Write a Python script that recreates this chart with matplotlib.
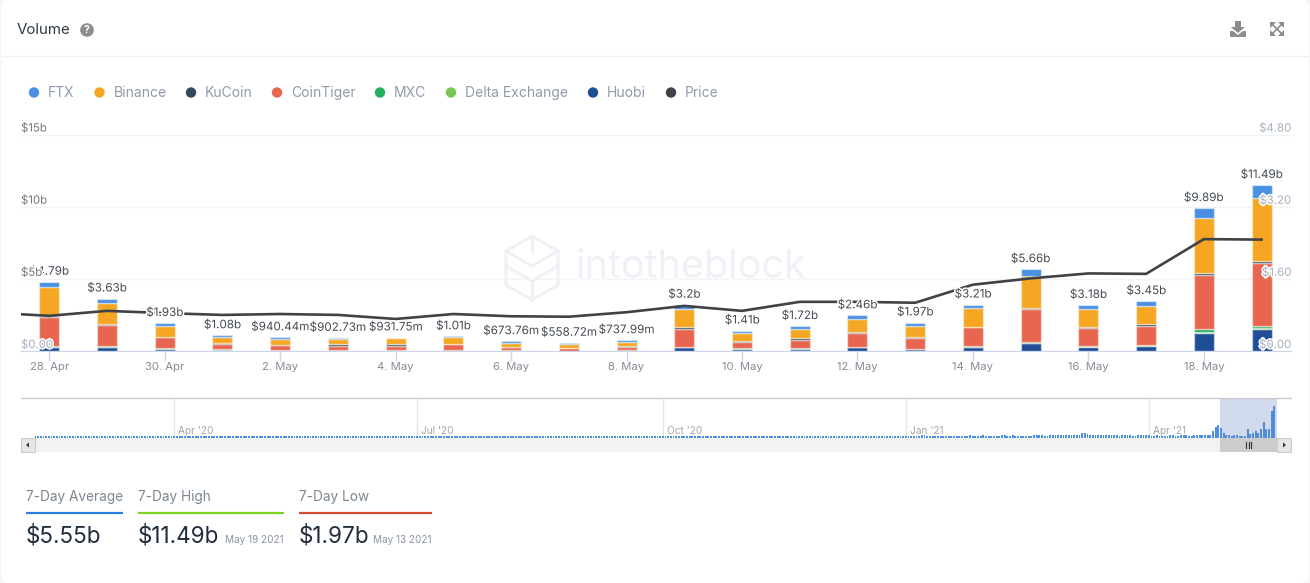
import matplotlib
matplotlib.use('Agg')
import matplotlib.pyplot as plt
import matplotlib.patheffects as pe
from matplotlib.patches import Circle, FancyBboxPatch, Polygon, Rectangle

W, H = 1310, 583
plt.rcParams['font.family'] = ['Inter', 'DejaVu Sans']

# values in $b, one per day from 28 Apr to 19 May
huobi = [.28, .26, .12, .04, .03, .02, .02, .02, .01, .01, .01, .26, .13, .13, .27, .12, .26, .55, .30, .38, 1.27, 1.53]
delta = [.02, .03, .03, .03, .01, .01, .01, .01, .01, .01, .01, .02, .03, .03, .01, .02, .02, .03, .02, .01, .03, .03]
mxc = [.03, .06, .05, .05, .02, .02, .02, .02, .02, .01, .02, .03, .04, .04, .02, .03, .05, .07, .05, .03, .20, .20]
cointiger = [2.05, 1.43, .75, .38, .36, .31, .33, .43, .23, .16, .27, 1.22, .45, .59, .95, .72, 1.30, 2.24, 1.25, 1.34, 3.80, 4.37]
kucoin = [.03, .09, .02, .02, .02, .12, .11, .02, .02, .05, .03, .11, .02, .09, .08, .08, .04, .10, .01, .11, .09, .12]
binance = [2.01, 1.43, .74, .43, .42, .36, .38, .45, .25, .27, .30, 1.30, .58, .62, .87, .78, 1.33, 2.19, 1.29, 1.25, 3.80, 4.37]
ftx = [.37, .33, .22, .13, .08, .06, .06, .06, .13, .05, .10, .26, .16, .22, .26, .22, .21, .48, .26, .33, .70, .87]
totals = [4.79, 3.63, 1.93, 1.08, .94, .90, .93, 1.01, .67, .56, .74, 3.2, 1.41, 1.72, 2.46, 1.97, 3.21, 5.66, 3.18, 3.45, 9.89, 11.49]
total_labels = ['$4.79b', '$3.63b', '$1.93b', '$1.08b', '$940.44m', '$902.73m', '$931.75m', '$1.01b', '$673.76m',
                '$558.72m', '$737.99m', '$3.2b', '$1.41b', '$1.72b', '$2.46b', '$1.97b', '$3.21b', '$5.66b',
                '$3.18b', '$3.45b', '$9.89b', '$11.49b']
# price starts one day earlier, 27 Apr, just off the left edge
price = [.85, .78, .89, .84, .80, .82, .80, .71, .82, .77, .76, .86, 1.0, .89, 1.09, 1.09, 1.07, 1.47, 1.61, 1.72, 1.71, 2.48, 2.47]

x_ticks = [0, 2, 4, 6, 8, 10, 12, 14, 16, 18, 20]
x_labels = ['28. Apr', '30. Apr', '2. May', '4. May', '6. May', '8. May', '10. May', '12. May', '14. May', '16. May', '18. May']
vol_ticks = [0, 5, 10, 15]
vol_labels = ['$0.00', '$5b', '$10b', '$15b']
price_ticks = [0, 1.6, 3.2, 4.8]
price_labels = ['$0.00', '$1.60', '$3.20', '$4.80']

# navigator, daily totals since Feb 2020
nav_early = [
    .7, .7, .7, .7, .7, .7, .7, .7, .7, .7, .7, .7, .7, .7, .7, .7, .7, .7, .7, .7, .7, .7, .7, .7,
    .7, .7, .7, .7, .7, .7, .7, .7, .7, .7, .7, .7, .7, .7, .7, .7, .7, .7, .7, .7, .7, .7, .7, .7,
    .7, .7, .7, .7, .7, .7, .7, .7, .7, .7, .7, .7, .7, .7, .7, .7, .7, .7, .7, .7, .7, .7, .7, .7,
    .7, .7, .7, .7, .7, .7, .7, .7, .7, .7, .7, .7, .7, .7, .7, .7, .7, .7, .7, .7, .7, .7, .7, .7,
    .7, .7, .7, .7, .7, .7, .7, .7, .7, .7, .7, .7, .7, .7, .7, .7, .7, .7, .7, .7, .7, .7, .7, .7,
    .7, .7, .7, .7, .7, .7, .7, .7, .7, .7, .7, .7, .7, .7, .7, .7, .7, .7, .7, .7, .7, .7, .7, .7,
    .7, .7, .7, .7, .7, .7, .7, .7, .7, .7, .7, .7, .7, .7, .7, .7, .7, .7, .7, .7, .7, .7, .7, .7,
    .7, .7, .7, .7, .7, .7, .7, .7, .7, .7, .7, .7, .7, .7, .7, .7, .7, .7, .7, .7, .7, .7, .7, .7,
    .7, .7, .7, .7, .7, .7, .7, .7, .7, .7, .7, .7, .7, .7, .7, .7, .7, .7, .7, .7, .7, .7, .7, .7,
    .7, .7, .7, .7, .7, .7, .7, .7, .7, .7, .7, .7, .7, .7, .7, .7, .7, .7, .7, .7, .7, .7, .7, .7,
    .7, .7, .7, .7, .7, .7, .7, .7, .7, .7, .7, .7, .7, .7, .7, .7, .7, .7, .7, .7, .7, .7, .7, .7,
    .7, .7, .7, .7, .7, .7, .7, .7, .7, .7, .7, .7, .7, .7, .7, .7, .7, .7, .7, .7, .7, .7, .7, .7,
    .7, .7, .7, .7, .7, .7, .7, .7, .7, .7, .7, .7, .7, .7, .7, .7, .7, .7, .7, .7, .7, .7, .7, .7,
    .7, .7, .7, .7, .7, .7, .7, .7, .7, .7, .7, .7, .7, .7, .7,
]
nav_mid = [
    .8, .8, .9, .9, .8, 1.1, 1.1, .9, .8, .8, .8, .8, .8, .8, .8, .8, .8, .8, .8, .8,
    .8, .8, .9, 1.0, .8, .8, .8, .8, 1.0, .8, .8, .8, .9, .9, .9, 1.0, 1.0, .9, .9, 1.0,
    .9, .9, .9, .9, .9, .9, .9, 1.0, 1.0, 1.1, 1.0, .9, .9, 1.0, 1.1, 1.0, 1.0, 1.2, 1.1, 1.0,
    1.1, 1.0, 1.0, 1.0, 1.1, 1.9, 1.9, 1.3, 1.2, 1.2, 1.1, 1.2, 1.1, 1.1, 1.0, 1.0, 1.0, 1.0, 1.0, .9,
    1.1, 1.0, 1.0, 1.0, .9, .9, 1.0, 1.0, 1.0, 1.0, 1.0, .9, .9, 1.0, .9, .9, .9, .9, 1.0, 1.0,
    .9, .9, 1.0, 1.0, 1.0, .9, .9, 1.0, 1.0, 1.2, 1.1, 1.2, 1.1, 1.1, 2.4, 4.0,
]
nav_ticks = [52, 143, 235, 326, 417]
nav_labels = ["Apr '20", "Jul '20", "Oct '20", "Jan '21", "Apr '21"]

legend_names = ['FTX', 'Binance', 'KuCoin', 'CoinTiger', 'MXC', 'Delta Exchange', 'Huobi', 'Price']
legend_colors = ['#4a90e2', '#f5a623', '#34495e', '#e8664f', '#27ae60', '#7ac74f', '#1f4e96', '#3f4347']
legend_dot_x = [34, 99.5, 191, 277, 380, 451, 593, 671]


def px_axes(fig, left, top, right, bottom, **kw):
    return fig.add_axes([left / W, 1 - bottom / H, (right - left) / W, (bottom - top) / H], **kw)


fig = plt.figure(figsize=(W / 100, H / 100), dpi=100, facecolor='#f4f6fb')

# background layer in pixel coords: card, header, legend, stats
bg = fig.add_axes([0, 0, 1, 1], zorder=0)
bg.set_xlim(0, W)
bg.set_ylim(H, 0)
bg.axis('off')
bg.add_patch(FancyBboxPatch((8, 7), W - 16, H - 14, boxstyle='round,pad=7,rounding_size=8', fc='white', ec='none'))
bg.plot([2, W - 2], [56, 56], color='#eef0f4', lw=1)
bg.text(17, 30, 'Volume', fontsize=10.8, color='#2c3a47', va='center')
bg.add_patch(Circle((87, 30), 6.8, fc='#8c8c8c', ec='none'))
bg.text(87, 30.3, '?', fontsize=7.5, color='white', weight='bold', ha='center', va='center')

# download icon
bg.add_patch(Polygon([(1235, 21), (1241, 21), (1241, 27), (1245, 27), (1238, 33), (1231, 27), (1235, 27)], fc='#8c8c8c', ec='none'))
bg.add_patch(Polygon([(1230, 31), (1233, 31), (1238, 35), (1243, 31), (1246, 31), (1246, 37), (1230, 37)], fc='#8c8c8c', ec='none'))
# expand icon
bg.plot([1272, 1282], [24, 34], color='#8c8c8c', lw=1.2)
bg.plot([1272, 1282], [34, 24], color='#8c8c8c', lw=1.2)
for sx, sy in [(1270, 22), (1284, 22), (1270, 36), (1284, 36)]:
    dx = 6 if sx == 1270 else -6
    dy = 6 if sy == 22 else -6
    bg.add_patch(Polygon([(sx, sy), (sx + dx, sy), (sx, sy + dy)], fc='#8c8c8c', ec='none'))

for name, color, dx in zip(legend_names, legend_colors, legend_dot_x):
    bg.add_patch(Circle((dx, 92.5), 5.2, fc=color, ec='none'))
    bg.text(dx + 14, 93, name, fontsize=10, color='#8f9bab', va='center')

# watermark
wm = '#eff1f6'
hex_pts = [(532, 236), (558, 251), (558, 285), (532, 300), (506, 285), (506, 251)]
bg.add_patch(Polygon(hex_pts, fc='none', ec=wm, lw=2.2))
bg.plot([506, 532, 558], [251, 266, 251], color=wm, lw=2.2)
bg.plot([506, 532, 558], [266, 281, 266], color=wm, lw=2.2)
bg.plot([532, 532], [236, 251], color=wm, lw=2.2)
bg.plot([532, 532], [281, 300], color=wm, lw=2.2)
bg.text(576, 268, 'intotheblock', fontsize=28.5, color=wm, va='center')

# stats under the chart
stats = [(26, 123, '#2a7de1', '7-Day Average', '$5.55b', ''),
         (138, 284, '#7ed321', '7-Day High', '$11.49b', 'May 19 2021'),
         (299, 432, '#d64c33', '7-Day Low', '$1.97b', 'May 13 2021')]
for x0, x1, col, title, val, date in stats:
    bg.text(x0, 497, title, fontsize=9.8, color='#7c8792', va='center')
    bg.plot([x0, x1], [513, 513], color=col, lw=1.6, solid_capstyle='butt')
    bg.text(x0, 536, val, fontsize=16.2, color='#1f2d3d', va='center')
    if date:
        bg.text(x1 - 0.5, 540, date, fontsize=7.2, color='#8a94a0', va='center', ha='right')

# main chart
ax = px_axes(fig, 21, 134.5, 1291, 351, zorder=1)
ax.patch.set_alpha(0)
days = list(range(len(totals)))
bottom = [0] * len(totals)
for vals, color in [(huobi, '#1f4e96'), (delta, '#7ac74f'), (mxc, '#27ae60'), (cointiger, '#e8664f'),
                    (kucoin, '#34495e'), (binance, '#f5a623'), (ftx, '#4a90e2')]:
    ax.bar(days, vals, width=0.346, bottom=bottom, color=color, edgecolor=(1, 1, 1, 0.45), linewidth=1)
    bottom = [b + v for b, v in zip(bottom, vals)]
ax.set_xlim(-0.49, 21.51)
ax.set_ylim(0, 15)
ax.set_xticks(x_ticks)
ax.set_xticklabels(x_labels, fontsize=8.1, color='#858c94')
ax.tick_params(axis='x', length=7, color='#ccd6eb', width=1, pad=1)
ax.set_yticks(vol_ticks)
ax.tick_params(axis='y', length=0, labelleft=False)
ax.grid(axis='y', color='#f2f3f5', lw=1)
ax.set_axisbelow(True)
for s in ['top', 'left', 'right']:
    ax.spines[s].set_visible(False)
ax.spines['bottom'].set_color('#ccd6eb')

ax2 = ax.twinx()
ax2.patch.set_alpha(0)
ax2.plot(list(range(-1, len(totals))), price, color='#3f4347', lw=1.9)
ax2.set_ylim(0, 4.8)
ax2.set_yticks([])
for s in ax2.spines.values():
    s.set_visible(False)

halo = [pe.withStroke(linewidth=2.2, foreground='white')]
for d, t, s in zip(days, totals, total_labels):
    ax2.annotate(s, (d, t), xycoords=ax.transData, xytext=(0, 3), textcoords='offset points', ha='center',
                 va='bottom', fontsize=8.4, color='#444b52', path_effects=halo, annotation_clip=False)
for v, s in zip(vol_ticks, vol_labels):
    col = '#a4b0be' if v == 0 else '#6f7780'
    ax2.annotate(s, (0, v), xycoords=ax.get_yaxis_transform(), xytext=(0, 4.3), textcoords='offset points', ha='left',
                 va='center', fontsize=8.2, color=col, path_effects=halo, annotation_clip=False)
for v, s in zip(price_ticks, price_labels):
    ax2.annotate(s, (1, v), xycoords=ax2.get_yaxis_transform(), xytext=(0, 4.3), textcoords='offset points', ha='right',
                 va='center', fontsize=8.2, color='#a4b0be', path_effects=halo, annotation_clip=False)

# navigator
nav_total = nav_early + nav_mid + totals
nav = px_axes(fig, 35, 399, 1277, 438, zorder=1)
nav.patch.set_alpha(0)
nav.bar(range(len(nav_total)), nav_total, width=0.68, color='#4a90e2', linewidth=0)
nav.set_xlim(-0.15, len(nav_total) - 1 + 0.98)
nav.set_ylim(0, 14.2)
nav.set_xticks(nav_ticks)
nav.set_xticklabels([])
nav.set_yticks([])
nav.tick_params(length=0)
nav.grid(axis='x', color='#e6e6e6', lw=1)
nav.set_axisbelow(True)
for s in nav.spines.values():
    s.set_visible(False)
for t, s in zip(nav_ticks, nav_labels):
    nav.annotate(s, (t, 0), xycoords=nav.get_xaxis_transform(), xytext=(3, 4.8), textcoords='offset points',
                 fontsize=7.3, color='#a6a6a6', va='center', annotation_clip=False)

# navigator frame and scrollbar
bg.plot([21, 1291], [398, 398], color='#cccccc', lw=1)
bg.add_patch(Rectangle((21, 438), 1270, 14, fc='#f2f2f2', ec='none'))
bg.add_patch(Rectangle((21, 438), 14, 14, fc='#e6e6e6', ec='#cccccc', lw=0.8))
bg.add_patch(Rectangle((1277, 438), 14, 14, fc='#e6e6e6', ec='#cccccc', lw=0.8))
bg.add_patch(Polygon([(26, 445), (29, 442.5), (29, 447.5)], fc='#333333', ec='none'))
bg.add_patch(Polygon([(1286, 445), (1283, 442.5), (1283, 447.5)], fc='#333333', ec='none'))
bg.add_patch(Rectangle((1220, 438), 57, 14, fc='#cccccc', ec='none'))
for tx in [1246, 1248.5, 1251]:
    bg.plot([tx, tx], [442, 448], color='#333333', lw=0.8)
top = px_axes(fig, 1220, 399, 1277, 438, zorder=2)
top.axis('off')
top.add_patch(Rectangle((0, 0), 1, 1, transform=top.transAxes, fc=(102 / 255, 133 / 255, 194 / 255), alpha=0.3, ec='none'))

fig.savefig('out.png', dpi=100)
